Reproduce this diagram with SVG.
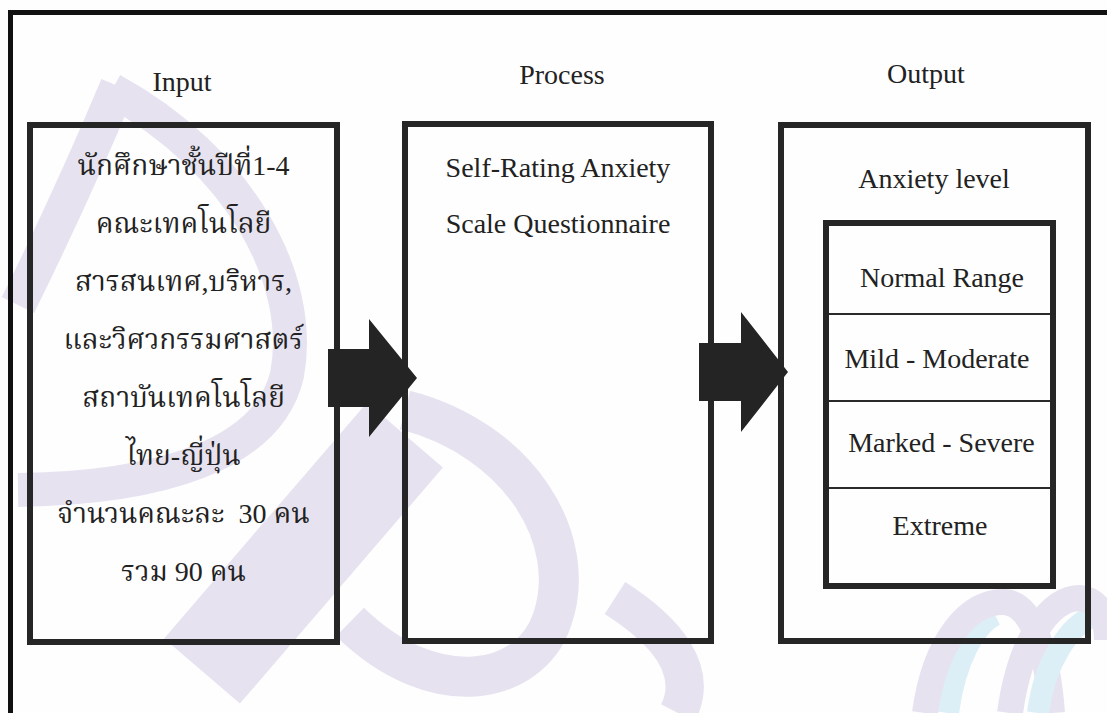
<svg xmlns="http://www.w3.org/2000/svg" width="1107" height="713" viewBox="0 0 1107 713">
  <defs>
    <style>
      .box { fill: none; stroke: #262626; stroke-width: 6; }
      .rule { stroke: #2a2a2a; stroke-width: 2; }
      .frame { stroke: #111; stroke-width: 5; }
      .lbl { font-family: "Liberation Serif", "Noto Serif Thai", "Noto Sans Thai", "DejaVu Serif", serif; font-size: 28px; fill: #222; text-anchor: middle; }
      .num { font-family: "Liberation Serif", serif; }
      .arrow { fill: #242424; }
      .wm { fill: none; stroke: #e7e2f0; stroke-linecap: butt; }
      .wm2 { fill: none; stroke: #ddeff6; stroke-linecap: butt; }
    </style>
  </defs>

  <rect width="1107" height="713" fill="#fefefe"/>

  <!-- faint background emblem -->
  <g id="emblem">
    <!-- pointed letter form on the left -->
    <path class="wm" stroke-width="34" d="M 112 90 C 240 160, 305 280, 287 375 C 268 455, 160 488, 18 490"/>
    <path class="wm" stroke-width="36" d="M 118 86 C 85 165, 50 240, 18 305"/>
    <!-- broad diagonal stroke and its loop -->
    <path class="wm" stroke-width="100" d="M 202 671 L 405 435"/>
    <path class="wm" stroke-width="40" d="M 405 410 C 520 440, 580 540, 552 620 C 530 685, 435 705, 350 622"/>
    <path class="wm" stroke-width="38" d="M 615 598 C 665 630, 700 670, 678 713"/>
    <!-- ribbon loops, lower right -->
    <path class="wm2" stroke-width="22" d="M 948 713 C 955 660, 975 625, 995 615"/>
    <path class="wm" stroke-width="26" d="M 925 713 C 935 640, 970 600, 1005 602 C 1035 605, 1048 660, 1052 713"/>
    <path class="wm2" stroke-width="22" d="M 1038 713 C 1045 660, 1070 625, 1095 615"/>
    <path class="wm" stroke-width="26" d="M 1010 713 C 1020 640, 1050 598, 1080 598 C 1100 600, 1107 620, 1107 640"/>
  </g>

  <!-- outer frame (top and left edges) -->
  <g id="frame">
    <line class="frame" x1="8" y1="12.5" x2="1107" y2="12.5"/>
    <line class="frame" x1="10.5" y1="10" x2="10.5" y2="713"/>
  </g>

  <!-- stage headings -->
  <g id="headings">
    <text class="lbl" x="182" y="91">Input</text>
    <text class="lbl" x="562" y="84">Process</text>
    <text class="lbl" x="926" y="83">Output</text>
  </g>

  <!-- input node -->
  <g id="input">
    <rect class="box" x="30" y="125" width="307" height="517"/>
    <text class="lbl" x="183.5" y="175">นักศึกษาชั้นปีที่<tspan class="num">1-4</tspan></text>
    <text class="lbl" x="183.5" y="233">คณะเทคโนโลยี</text>
    <text class="lbl" x="183.5" y="291">สารสนเทศ,บริหาร,</text>
    <text class="lbl" x="183.5" y="349">และวิศวกรรมศาสตร์</text>
    <text class="lbl" x="183.5" y="407">สถาบันเทคโนโลยี</text>
    <text class="lbl" x="183.5" y="465">ไทย-ญี่ปุ่น</text>
    <text class="lbl" x="183.5" y="523" xml:space="preserve">จำนวนคณะละ<tspan class="num">  30 </tspan>คน</text>
    <text class="lbl" x="183.5" y="581" xml:space="preserve">รวม<tspan class="num"> 90 </tspan>คน</text>
  </g>

  <!-- process node -->
  <g id="process">
    <rect class="box" x="405" y="124" width="306" height="517"/>
    <text class="lbl" x="558" y="177">Self-Rating Anxiety</text>
    <text class="lbl" x="558" y="233">Scale Questionnaire</text>
  </g>

  <!-- output node with anxiety levels -->
  <g id="output">
    <rect class="box" x="781" y="125" width="307" height="516"/>
    <text class="lbl" x="934" y="188">Anxiety level</text>
    <rect class="box" x="826" y="223" width="227" height="363"/>
    <line class="rule" x1="829" y1="314" x2="1050" y2="314"/>
    <line class="rule" x1="829" y1="401" x2="1050" y2="401"/>
    <line class="rule" x1="829" y1="488" x2="1050" y2="488"/>
    <text class="lbl" x="942" y="287">Normal Range</text>
    <text class="lbl" x="937" y="368">Mild - Moderate</text>
    <text class="lbl" x="941.5" y="452">Marked - Severe</text>
    <text class="lbl" x="940" y="535">Extreme</text>
  </g>

  <!-- block arrows between stages -->
  <g id="connectors">
    <polygon class="arrow" points="328,349 369,349 369,319 417,378 369,437 369,407 328,407"/>
    <polygon class="arrow" points="699,343 741,343 741,312 788,372 741,432 741,401 699,401"/>
  </g>
</svg>
